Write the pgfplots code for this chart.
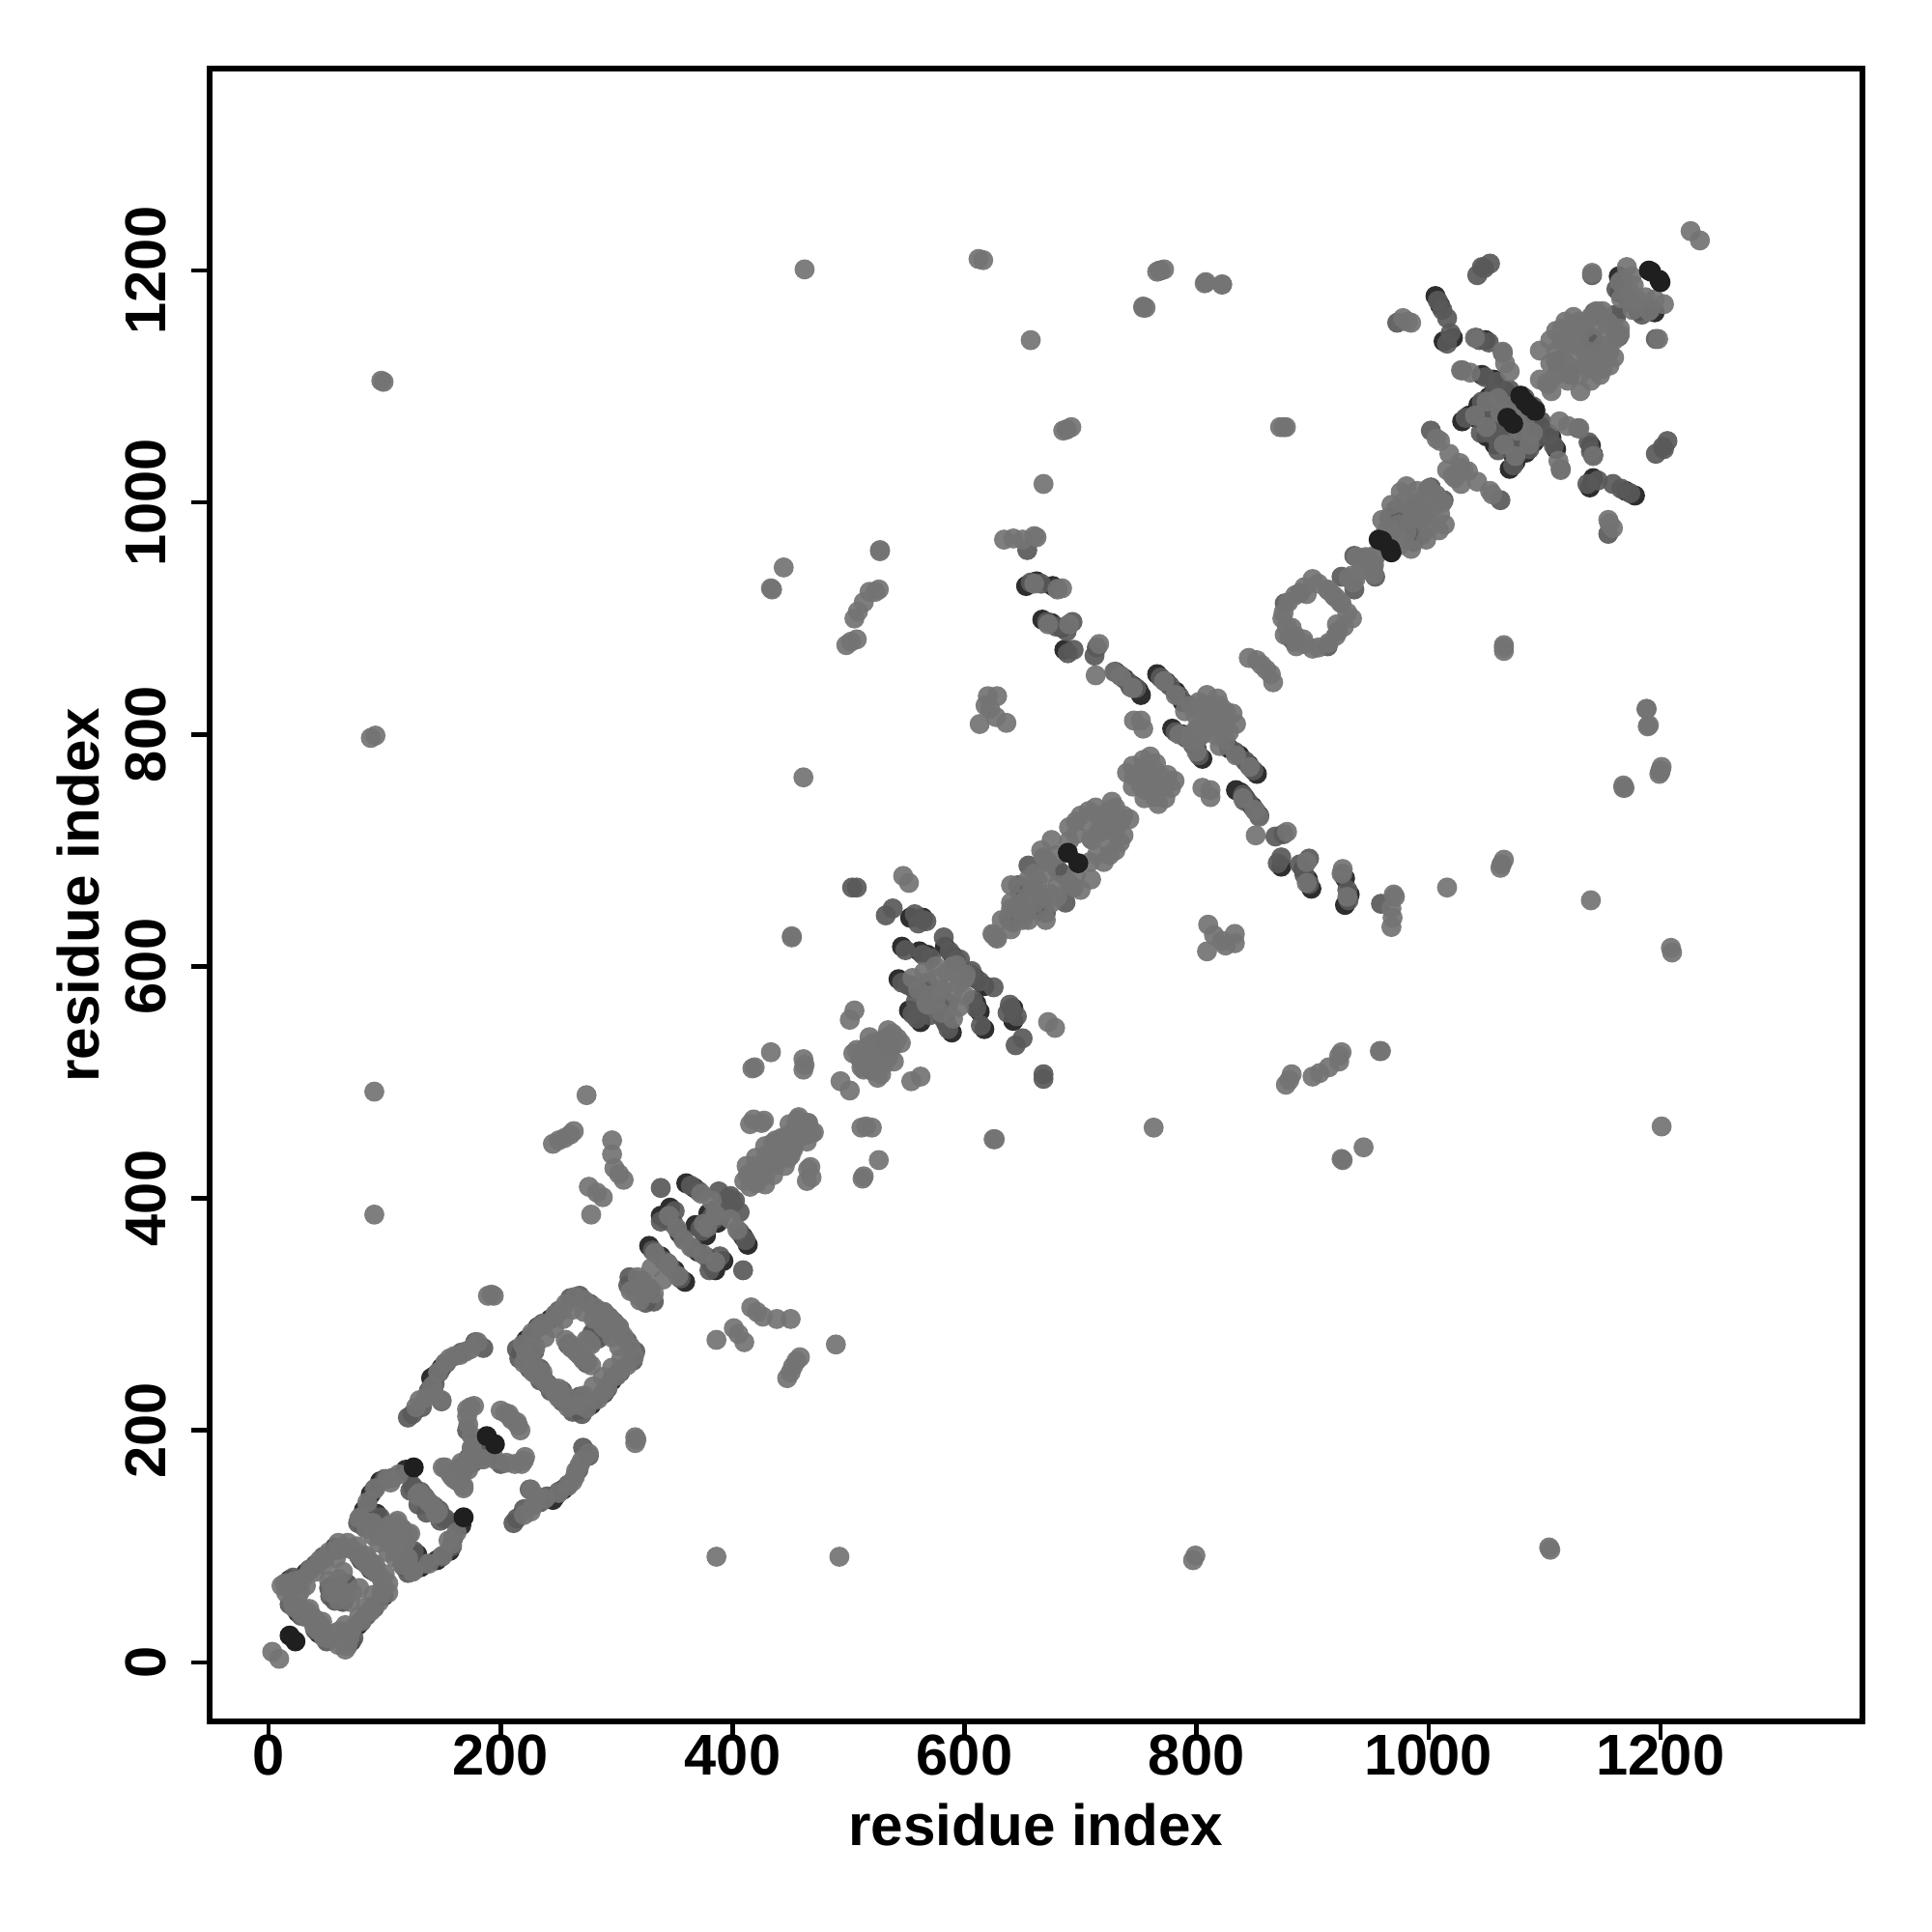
\documentclass[border=0pt]{standalone}
\usepackage{fontspec}
\setmainfont{Liberation Sans}
\usepackage{pgfplots}
\usepackage{pgfplotstable}
\pgfplotsset{compat=1.18}
\pgfplotstableread{
x y
18 71
32 77
57 99
88 80
25 43
43 31
88 145
96 156
118 166
82 131
143 134
93 128
140 245
143 247
149 254
225 265
218 268
222 278
232 289
243 296
262 272
282 287
230 250
240 240
338 385
346 381
354 370
328 359
338 350
360 413
367 409
379 387
368 377
346 392
553 642
564 642
546 617
561 613
568 610
583 617
590 609
543 589
552 584
552 562
653 928
662 932
676 928
667 899
675 896
684 892
686 873
730 854
738 848
745 842
750 838
752 834
766 852
774 845
782 837
788 828
779 805
788 800
1006 1178
1010 1170
1021 1142
1013 1139
1041 1142
1049 1140
1029 1070
1035 1075
1043 1084
1052 1091
1066 1096
1080 1092
1088 1082
1068 1073
1052 1062
1041 1073
1057 1050
1060 1084
1077 1087
1046 1110
1056 1106
1164 1195
1172 1175
1181 1165
}\underdark
\pgfplotstableread{
x y
21 73
35 80
60 97
91 78
28 40
46 28
91 149
100 158
121 163
85 135
147 131
96 125
143 240
147 250
153 258
229 268
221 272
226 281
236 292
247 299
265 268
279 284
234 253
244 237
342 382
349 378
357 366
331 355
341 346
364 411
371 406
382 384
372 374
350 389
557 645
567 639
549 614
564 610
571 607
587 613
593 605
546 586
556 581
555 559
657 931
666 930
680 926
671 897
679 893
688 889
689 870
734 851
741 845
748 840
769 849
777 842
785 833
782 802
791 797
1008 1174
1012 1166
1019 1146
1016 1137
1044 1140
1052 1138
1032 1073
1046 1087
1056 1093
1070 1097
1083 1090
1071 1076
1055 1065
1044 1076
1060 1053
1063 1080
1049 1108
1059 1104
1167 1192
1175 1172
1184 1162
1045 1075
1050 1085
1065 1060
1045 1060
}\coverpts
\pgfplotstableread{
x y
18 23
125 168
188 195
689 698
957 968
960 967
1192 1199
1200 1190
1079 1092
1087 1083
1068 1073
}\topdark
\pgfplotstableread{
x y
25 67
40 84
47 91
52 64
67 68
57 53
65 53
18 50
47 25
107 159
124 152
150 125
122 148
129 136
82 117
77 120
165 168
176 172
182 178
178 189
171 200
149 225
138 234
124 214
120 211
185 271
178 276
166 267
132 220
214 270
216 262
225 253
235 245
243 234
260 314
268 316
277 309
285 303
293 298
302 289
250 303
283 280
274 258
311 332
320 328
329 321
310 325
338 409
338 380
388 406
396 400
402 398
390 385
507 668
503 668
654 959
532 644
538 650
564 640
560 637
582 625
596 606
551 584
568 586
564 578
558 570
532 536
638 642
645 650
646 670
660 667
668 692
680 684
648 663
655 687
693 897
694 873
714 875
712 868
743 841
1046 1203
1053 1206
1042 1196
1048 1202
1016 1159
973 1155
1064 1129
1029 1114
1054 1061
1048 1072
1002 1062
996 989
982 981
972 994
966 987
1013 1002
936 954
945 952
1143 1164
1161 1162
1141 1196
1110 1122
1140 1142
876 913
889 922
880 884
925 936
}\midpts
\pgfplotstableread{
x y
3 9
11 66
25 56
27 61
35 46
32 39
40 37
58 90
65 99
74 96
81 88
50 21
72 60
78 64
88 46
78 124
96 109
102 106
107 100
116 109
122 111
135 142
110 120
155 105
174 220
171 218
177 221
171 212
200 217
207 214
210 209
150 168
156 164
168 152
163 156
166 172
171 170
175 184
185 175
192 317
189 316
194 316
156 262
149 226
143 231
130 226
174 270
180 276
165 265
233 289
252 303
277 275
271 261
256 278
263 270
302 289
276 410
283 405
288 401
278 386
245 447
250 450
255 452
260 455
263 458
296 450
296 438
298 426
302 421
306 416
274 489
91 492
91 386
97 1105
99 1104
88 797
92 799
315 320
318 332
328 323
312 320
330 340
418 468
427 467
415 464
435 448
446 453
457 470
449 464
462 461
468 456
452 442
429 437
439 434
413 420
420 428
424 420
421 414
437 450
462 515
461 520
461 511
433 526
419 513
417 512
493 501
505 562
501 554
451 626
451 625
444 944
433 926
434 925
527 958
526 925
523 923
518 923
513 914
508 906
505 900
507 882
502 880
498 877
461 763
547 678
552 672
462 1201
612 1210
616 1209
754 1169
756 1168
766 1199
768 1200
772 1201
808 1190
822 1188
657 1140
685 1062
688 1063
692 1065
872 1065
877 1065
668 1016
634 968
642 969
650 968
660 971
662 970
527 959
613 809
627 815
636 810
620 833
628 833
622 822
618 825
507 528
518 539
538 542
512 517
524 525
504 525
521 534
530 537
534 545
513 511
578 590
592 594
593 601
568 567
600 590
624 628
627 625
640 670
660 668
654 660
666 700
675 709
668 694
663 673
696 725
713 737
730 737
735 725
716 717
710 709
696 714
704 725
721 731
707 734
727 742
679 696
740 767
746 764
754 778
763 770
752 756
745 773
757 767
760 781
713 851
716 878
729 854
684 926
752 812
746 812
754 805
809 834
802 828
818 831
799 817
813 812
804 800
790 820
815 820
852 864
860 856
845 866
900 934
893 927
874 900
879 914
913 925
924 914
882 892
921 895
886 876
934 937
954 953
946 953
938 953
943 942
931 935
963 975
978 1159
982 1156
985 1155
1040 1142
1064 1130
1070 1113
1066 1120
1028 1114
1036 1112
1007 1055
1010 1053
1018 1042
1027 1034
1021 1023
1016 1028
1030 1028
981 1014
976 1009
997 1006
1007 1006
990 1000
985 995
974 981
1060 1090
1096 1131
1110 1148
1118 1156
1130 1156
1171 1203
1174 1181
1141 1198
1118 1120
1130 1139
1102 1103
1096 1106
1118 1134
1146 1153
1166 1176
1177 1187
1132 1120
1150 1135
1226 1234
1065 875
1063 688
1168 754
1200 769
1189 807
1188 822
14 68
22 70
29 72
36 80
44 88
52 95
62 99
70 98
78 92
84 85
22 47
28 42
36 38
44 33
49 23
54 60
60 62
63 58
70 52
85 138
92 150
102 158
112 162
79 125
105 118
115 115
118 104
100 115
90 120
128 144
137 139
146 130
172 205
175 195
158 160
204 215
127 220
135 228
141 238
146 250
152 258
160 264
170 268
219 274
227 284
238 292
247 300
256 309
264 315
272 312
281 306
289 301
297 294
220 258
228 250
238 242
247 232
252 228
259 275
267 266
274 278
655 675
670 680
690 708
700 730
720 725
725 720
690 720
715 730
728 730
640 655
632 640
640 650
672 690
660 680
650 650
425 465
440 445
445 440
455 450
465 465
430 430
412 428
420 435
428 445
455 465
410 415
885 920
875 905
878 893
885 885
905 930
918 920
968 998
978 1000
990 1010
1000 1012
1003 1000
995 995
985 985
960 985
968 975
1105 1140
1115 1150
1125 1160
1140 1160
1150 1165
1155 1155
1135 1130
1145 1125
1155 1130
1165 1145
1160 1150
1110 1110
1120 1105
1130 1110
1140 1115
1150 1125
1175 1195
1165 1190
795 825
810 825
805 815
820 825
825 810
800 805
795 800
745 755
750 765
755 772
765 775
760 760
510 522
515 530
525 535
535 540
527 520
520 510
540 535
555 590
565 595
575 600
585 595
560 580
570 575
580 580
590 600
222 266
230 272
238 280
246 288
254 296
262 304
272 302
280 296
288 290
296 282
228 258
236 250
84 115
90 109
95 103
88 120
95 113
60 103
68 103
76 100
84 92
90 85
15 60
20 62
32 66
40 78
48 84
352 374
345 385
358 364
333 353
344 344
373 404
382 398
385 386
375 378
660 930
680 925
672 895
690 895
735 850
745 840
772 846
782 834
785 800
795 795
1050 1087
1040 1075
1050 1065
1062 1077
1075 1070
1075 1085
}\lightpts
\begin{document}
\begin{tikzpicture}
\path[use as bounding box] (-54.25bp,-54.5bp) rectangle (445.75bp,445.5bp);
\begin{axis}[
  scale only axis, width=427.7bp, height=427.7bp,
  xmin=-51, xmax=1374, ymin=-51, ymax=1374,
  axis line style={line width=1.5bp},
  xtick={0,200,...,1200}, ytick={0,200,...,1200},
  xtick pos=bottom, ytick pos=left,
  tick align=outside,
  major tick length=4.8bp,
  every tick/.style={black,line width=1.1bp},
  /pgf/number format/1000 sep={},
  /pgf/number format/assume math mode=true,
  tick label style={font=\fontsize{14.9bp}{14.9bp}\selectfont\bfseries},
  yticklabel style={rotate=90,anchor=center,yshift=11.8bp},
  xticklabel style={anchor=center,yshift=-4bp},
  xlabel={residue index}, ylabel={residue index},
  label style={font=\fontsize{15.05bp}{15.05bp}\selectfont\bfseries},
  xlabel style={at={(axis description cs:0.5,0)},anchor=center,yshift=-26.8bp},
  ylabel style={at={(axis description cs:0,0.5)},anchor=center,rotate=0,yshift=34.1bp},
  clip=true,
  every axis plot/.append style={only marks, mark=*, mark size=2.6bp, line width=0pt},
]
\addplot[mark options={draw opacity=0,fill=black!82}] table[x index=0,y index=1] {\underdark};
\addplot[mark options={draw opacity=0,fill=black!82}] table[x index=1,y index=0] {\underdark};
\addplot[mark options={draw opacity=0,fill=black!65,fill opacity=.92}] table[x index=0,y index=1] {\coverpts};
\addplot[mark options={draw opacity=0,fill=black!65,fill opacity=.92}] table[x index=1,y index=0] {\coverpts};
\addplot[mark options={draw opacity=0,fill=black!65,fill opacity=.92}] table[x index=0,y index=1] {\midpts};
\addplot[mark options={draw opacity=0,fill=black!65,fill opacity=.92}] table[x index=1,y index=0] {\midpts};
\addplot[mark options={draw opacity=0,fill=black!55,fill opacity=.92}] table[x index=0,y index=1] {\lightpts};
\addplot[mark options={draw opacity=0,fill=black!55,fill opacity=.92}] table[x index=1,y index=0] {\lightpts};
\addplot[mark options={draw opacity=0,fill=black!88}] table[x index=0,y index=1] {\topdark};
\addplot[mark options={draw opacity=0,fill=black!88}] table[x index=1,y index=0] {\topdark};
\end{axis}
\end{tikzpicture}
\end{document}
